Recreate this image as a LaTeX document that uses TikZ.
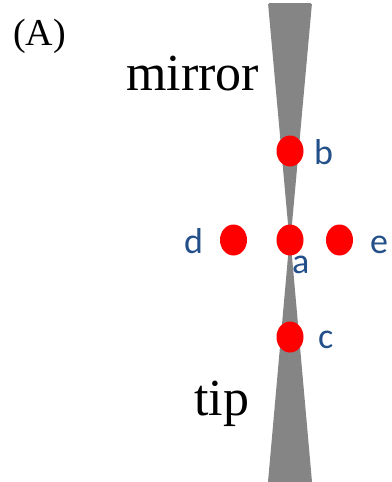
\documentclass[tikz,border=0pt]{standalone}
\usepackage{fontspec}
\usetikzlibrary{shapes.geometric}
\setmainfont{Liberation Serif}
\newfontfamily\lblfont{Carlito}
\definecolor{lblblue}{HTML}{24508A}
\definecolor{conegray}{HTML}{858585}
\begin{document}
\begin{tikzpicture}[x=1pt,y=-1pt,
  dot/.style={fill=red,draw=none,ellipse,minimum width=27pt,minimum height=31pt,inner sep=0pt},
  lbl/.style={text=lblblue,font=\lblfont\fontsize{36}{40}\selectfont,inner sep=0pt,anchor=base west},
  big/.style={font=\fontsize{52}{60}\selectfont,inner sep=0pt,anchor=base west}]
\useasboundingbox (0,0) rectangle (391,482);
% cones
\fill[conegray,rounded corners=1.5pt] (268,3) -- (312,3) -- (290,246) -- cycle;
\fill[conegray] (290,234) -- (312,482) -- (268,482) -- cycle;
% texts
\node[inner sep=0pt,anchor=base west,font=\fontsize{38}{44}\selectfont] (A) at (13,45) {(A)};
\node[big] (mirror) at (126,90) {mirror};
\node[big] (tip) at (194,415) {tip};
% dots
\node[dot] (b) at (290,151) {};
\node[dot] (d) at (233.5,240) {};
\node[dot] (a) at (290,240) {};
\node[dot] (e) at (339.5,240) {};
\node[dot] (c) at (290,337) {};
% labels
\node[lbl] (lb) at (314,164) {b};
\node[lbl] (ld) at (184,253) {d};
\node[lbl] (la) at (292,273) {a};
\node[lbl] (le) at (370,253) {e};
\node[lbl] (lc) at (318,348) {c};
\end{tikzpicture}
\end{document}
